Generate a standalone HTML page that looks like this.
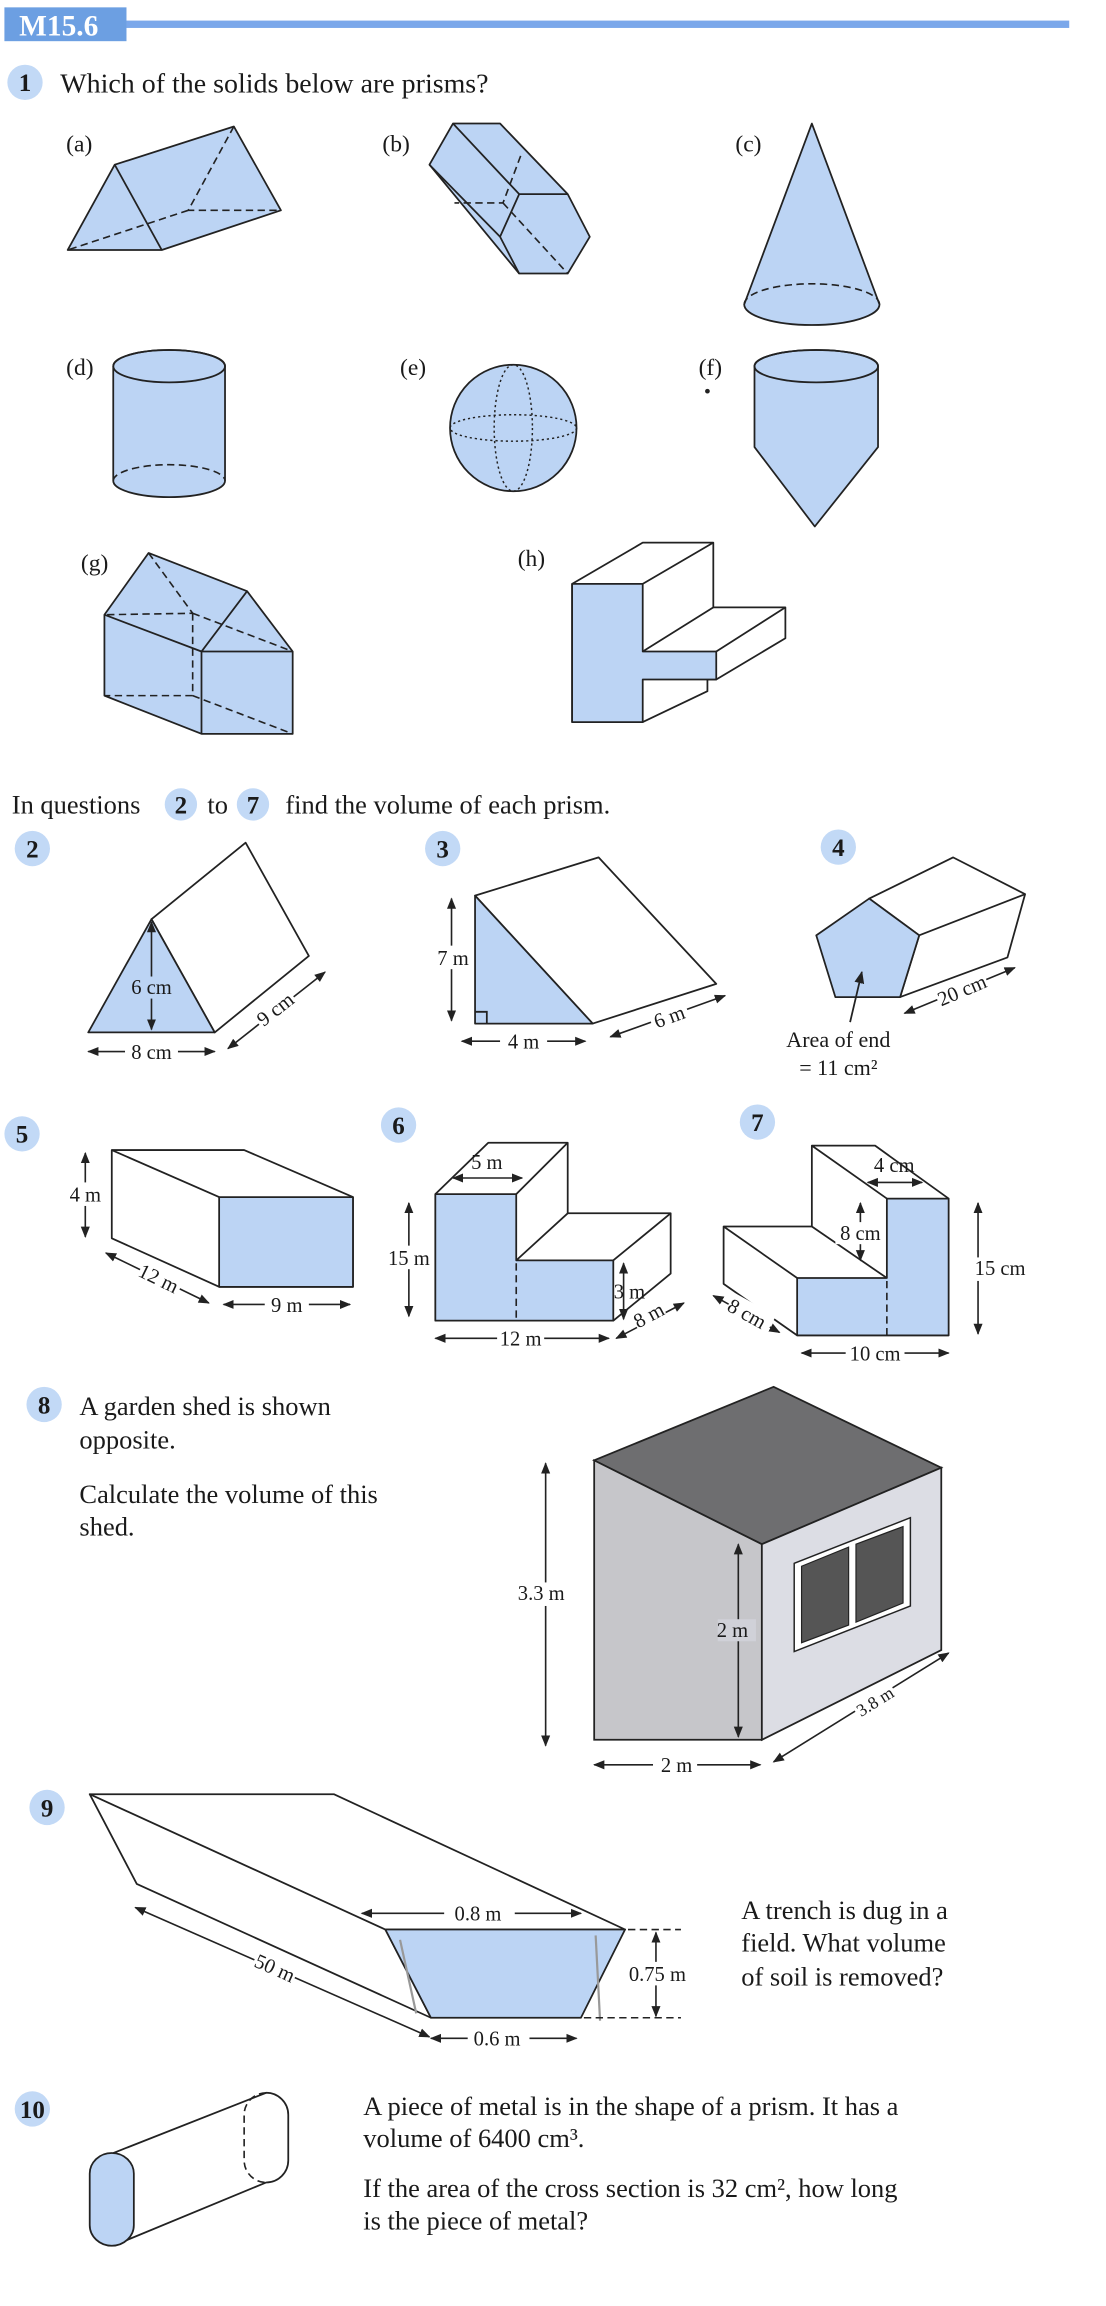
<!DOCTYPE html>
<html><head><meta charset="utf-8"><style>
html,body{margin:0;padding:0;background:#fff}
svg{display:block}
text{font-family:"Liberation Serif",serif;fill:#1a1a1a}
.b{fill:#bcd4f4;stroke:#222;stroke-width:1.2;stroke-linejoin:round}
.w{fill:#fff;stroke:#222;stroke-width:1.2;stroke-linejoin:round}
.l{fill:none;stroke:#222;stroke-width:1.2}
.d{fill:none;stroke:#222;stroke-width:1.1;stroke-dasharray:5 3}
.dt{fill:none;stroke:#222;stroke-width:1;stroke-dasharray:1.5 2}
.a{fill:none;stroke:#222;stroke-width:1.1;marker-start:url(#ar);marker-end:url(#ar)}
.bd{fill:#c2d9f6}
.bn{font-weight:bold;font-size:17px;text-anchor:middle}
.t{font-size:18px}
.s{font-size:14px}
</style></head><body>
<svg width="1106" height="2306" viewBox="0 0 752 1568" preserveAspectRatio="none" xmlns="http://www.w3.org/2000/svg">
<defs><marker id="ar" viewBox="0 0 10 10" refX="9" refY="5" markerWidth="7" markerHeight="7" orient="auto-start-reverse"><path d="M0,1 L10,5 L0,9 z" fill="#222"/></marker></defs>

<!-- header -->
<rect x="3" y="5" width="83" height="23" fill="#6c9fe2"/>
<rect x="86" y="14" width="641" height="5" fill="#7aa7ea"/>
<text x="13" y="24" style="font-size:20px;font-weight:bold;fill:#fff">M15.6</text>

<!-- Q1 -->
<circle cx="17" cy="56" r="12" class="bd"/><text x="17" y="62" class="bn">1</text>
<text x="41" y="63" class="t" style="font-size:19px">Which of the solids below are prisms?</text>
<text x="45" y="103" class="s" style="font-size:16px">(a)</text>
<text x="260" y="103" class="s" style="font-size:16px">(b)</text>
<text x="500" y="103" class="s" style="font-size:16px">(c)</text>
<text x="45" y="255" class="s" style="font-size:16px">(d)</text>
<text x="272" y="255" class="s" style="font-size:16px">(e)</text>
<text x="475" y="255" class="s" style="font-size:16px">(f)</text>
<text x="55" y="388" class="s" style="font-size:16px">(g)</text>
<text x="352" y="385" class="s" style="font-size:16px">(h)</text>

<!-- a -->
<polygon class="b" points="46,170 78,112 159,86 191,143 110,170"/>
<path class="l" d="M78,112 L110,170"/>
<path class="d" d="M159,86 L128,143 L191,143 M128,143 L46,170"/>
<!-- b -->
<polygon class="b" points="308,84 340,84 386,132 401,161 386,186 353,186 292,112"/>
<path class="l" d="M308,84 L353,132 L386,132 M353,132 L340,161 L353,186 M292,112 L340,161"/>
<path class="d" d="M354,106 L342,138 L309,138 M342,138 L386,186"/>
<!-- c -->
<path class="b" d="M552,84 L506,207 A46,14 0 0 0 598,207 Z"/>
<path class="d" d="M506,207 A46,14 0 0 1 598,207"/>
<!-- d -->
<path class="b" d="M77,249 L77,327 A38,11 0 0 0 153,327 L153,249 A38,11 0 0 0 77,249 Z"/>
<ellipse class="l" cx="115" cy="249" rx="38" ry="11"/>
<path class="d" d="M77,327 A38,11 0 0 1 153,327"/>
<!-- e -->
<ellipse class="b" cx="349" cy="291" rx="43" ry="43"/>
<ellipse class="dt" cx="349" cy="291" rx="43" ry="9"/>
<ellipse class="dt" cx="349" cy="291" rx="13" ry="43"/>
<!-- f -->
<path class="b" d="M513,249 L513,304 L554,358 L597,304 L597,249 A42,11 0 0 0 513,249 Z"/>
<ellipse class="l" cx="555" cy="249" rx="42" ry="11"/>
<circle cx="481" cy="266" r="1.6" fill="#222"/>
<!-- g -->
<polygon class="b" points="101,376 168,402 199,443 199,499 137,499 71,473 71,418"/>
<path class="l" d="M71,418 L137,443 L168,402 M137,443 L199,443 M137,443 L137,499"/>
<path class="d" d="M101,376 L131,417 L71,418 M131,417 L199,443 M131,417 L131,473 L71,473 M131,473 L199,499"/>
<!-- h -->
<polygon class="w" points="389,397 437,369 485,369 485,413 534,413 534,434 487,462 481,462 481,470 437,491 389,491"/>
<polygon class="b" points="389,397 437,397 437,443 487,443 487,462 437,462 437,491 389,491"/>
<path class="l" d="M437,397 L485,369 M437,443 L485,413 M487,443 L534,413"/>

<!-- intro -->
<text x="8" y="553" class="t">In questions</text>
<circle cx="123" cy="547" r="11" class="bd"/><text x="123" y="553" class="bn">2</text>
<text x="141" y="553" class="t">to</text>
<circle cx="172" cy="547" r="11" class="bd"/><text x="172" y="553" class="bn">7</text>
<text x="194" y="553" class="t">find the volume of each prism.</text>

<!-- Q2 -->
<circle cx="22" cy="577" r="12" class="bd"/><text x="22" y="583" class="bn">2</text>
<polygon class="w" points="103,625 167,573 210,650 146,702"/>
<polygon class="b" points="103,625 60,702 146,702"/>
<path class="a" d="M103,627 L103,700"/>
<rect x="88" y="664" width="32" height="15" fill="#bcd4f4"/>
<text x="103" y="676" class="s" text-anchor="middle">6 cm</text>
<path class="a" d="M60,715 L146,715"/>
<rect x="85" y="708" width="36" height="15" fill="#fff"/>
<text x="103" y="720" class="s" text-anchor="middle">8 cm</text>
<path class="a" d="M155,713 L221,661"/>
<rect x="172" y="678" width="30" height="15" fill="#fff" transform="rotate(-38 187 686)"/>
<text x="187" y="691" class="s" text-anchor="middle" transform="rotate(-38 187 686)">9 cm</text>

<!-- Q3 -->
<circle cx="301" cy="577" r="12" class="bd"/><text x="301" y="583" class="bn">3</text>
<polygon class="w" points="323,609 407,583 487,669 403,696"/>
<polygon class="b" points="323,609 323,696 403,696"/>
<path class="l" d="M323,688 L331,688 L331,696"/>
<path class="a" d="M307,611 L307,694"/>
<rect x="296" y="643" width="24" height="16" fill="#fff"/>
<text x="308" y="656" class="s" text-anchor="middle">7 m</text>
<path class="a" d="M314,708 L398,708"/>
<rect x="340" y="701" width="32" height="15" fill="#fff"/>
<text x="356" y="713" class="s" text-anchor="middle">4 m</text>
<path class="a" d="M415,705 L493,677"/>
<rect x="442" y="683" width="26" height="15" fill="#fff" transform="rotate(-20 455 691)"/>
<text x="455" y="696" class="s" text-anchor="middle" transform="rotate(-20 455 691)">6 m</text>

<!-- Q4 -->
<circle cx="570" cy="576" r="12" class="bd"/><text x="570" y="582" class="bn">4</text>
<polygon class="w" points="591,611 648,583 697,608 685,651 612,678 625,636"/>
<path class="l" d="M625,636 L697,608"/>
<polygon class="b" points="591,611 555,636 568,678 612,678 625,636"/>
<path class="l" d="M578,695 L586,661" marker-end="url(#ar)"/>
<text x="570" y="712" class="s" text-anchor="middle" style="font-size:15px">Area of end</text>
<text x="570" y="731" class="s" text-anchor="middle" style="font-size:15px">= 11 cm²</text>
<path class="a" d="M615,689 L690,658"/>
<rect x="636" y="665" width="36" height="15" fill="#fff" transform="rotate(-23 654 673)"/>
<text x="654" y="678" class="s" text-anchor="middle" transform="rotate(-23 654 673)">20 cm</text>

<!-- Q5 -->
<circle cx="15" cy="771" r="12" class="bd"/><text x="15" y="777" class="bn">5</text>
<polygon class="w" points="76,782 166,782 240,814 240,875 149,875 76,842"/>
<path class="l" d="M76,782 L149,814"/>
<rect x="149" y="814" width="91" height="61" class="b"/>
<path class="a" d="M58,784 L58,841"/>
<rect x="46" y="804" width="24" height="16" fill="#fff"/>
<text x="58" y="817" class="s" text-anchor="middle">4 m</text>
<path class="a" d="M72,852 L142,886"/>
<rect x="94" y="862" width="30" height="14" fill="#fff" transform="rotate(26 108 869)"/>
<text x="108" y="874" class="s" text-anchor="middle" transform="rotate(26 108 869)">12 m</text>
<path class="a" d="M152,887 L238,887"/>
<rect x="180" y="880" width="30" height="15" fill="#fff"/>
<text x="195" y="892" class="s" text-anchor="middle">9 m</text>

<!-- Q6 -->
<circle cx="271" cy="765" r="12" class="bd"/><text x="271" y="771" class="bn">6</text>
<polygon class="w" points="296,812 332,777 386,777 386,825 456,825 456,866 417,898 296,898"/>
<path class="l" d="M351,812 L386,777 M351,857 L386,825 M417,857 L456,825"/>
<polygon class="b" points="296,812 351,812 351,857 417,857 417,898 296,898"/>
<path class="d" d="M351,859 L351,898"/>
<path class="a" d="M308,801 L355,801"/>
<text x="331" y="795" class="s" text-anchor="middle">5 m</text>
<path class="a" d="M278,818 L278,895"/>
<rect x="263" y="847" width="32" height="16" fill="#fff"/>
<text x="278" y="860" class="s" text-anchor="middle">15 m</text>
<path class="a" d="M424,859 L424,897"/>
<text x="428" y="883" class="s" text-anchor="middle">3 m</text>
<path class="a" d="M419,910 L465,886"/>
<rect x="430" y="886" width="22" height="14" fill="#fff" transform="rotate(-28 441 894)"/>
<text x="441" y="899" class="s" text-anchor="middle" transform="rotate(-28 441 894)">8 m</text>
<path class="a" d="M296,910 L414,910"/>
<rect x="338" y="903" width="32" height="15" fill="#fff"/>
<text x="354" y="915" class="s" text-anchor="middle">12 m</text>

<!-- Q7 -->
<circle cx="515" cy="763" r="12" class="bd"/><text x="515" y="769" class="bn">7</text>
<polygon class="w" points="552,779 595,779 645,815 645,908 542,908 492,873 492,834 552,834"/>
<path class="l" d="M552,779 L603,815 M552,834 L603,869 M492,834 L542,869"/>
<polygon class="b" points="603,815 645,815 645,908 542,908 542,869 603,869"/>
<path class="d" d="M603,871 L603,908"/>
<path class="a" d="M590,804 L627,804"/>
<text x="608" y="797" class="s" text-anchor="middle">4 cm</text>
<path class="a" d="M585,818 L585,857"/>
<rect x="568" y="831" width="34" height="15" fill="#fff"/>
<text x="585" y="843" class="s" text-anchor="middle">8 cm</text>
<path class="a" d="M665,818 L665,907"/>
<rect x="650" y="855" width="40" height="16" fill="#fff"/>
<text x="680" y="867" class="s" text-anchor="middle">15 cm</text>
<path class="a" d="M485,881 L530,906"/>
<rect x="494" y="885" width="32" height="14" fill="#fff" transform="rotate(29 508 893)"/>
<text x="508" y="898" class="s" text-anchor="middle" transform="rotate(29 508 893)">8 cm</text>
<path class="a" d="M545,920 L645,920"/>
<rect x="575" y="913" width="40" height="15" fill="#fff"/>
<text x="595" y="925" class="s" text-anchor="middle">10 cm</text>

<!-- Q8 -->
<circle cx="30" cy="955" r="12" class="bd"/><text x="30" y="961" class="bn">8</text>
<text x="54" y="962" class="t">A garden shed is shown</text>
<text x="54" y="985" class="t">opposite.</text>
<text x="54" y="1022" class="t">Calculate the volume of this</text>
<text x="54" y="1044" class="t">shed.</text>
<polygon points="404,993 526,943 640,998 518,1050" fill="#6e6e70" stroke="#222" stroke-width="1.2"/>
<polygon points="404,993 518,1050 518,1183 404,1183" fill="#c6c6ca" stroke="#222" stroke-width="1.2"/>
<polygon points="518,1050 640,998 640,1122 518,1183" fill="#dcdde4" stroke="#222" stroke-width="1.2"/>
<polygon points="540,1063 619,1032 619,1092 540,1123" fill="#fff" stroke="#222" stroke-width="1"/>
<polygon points="545,1065 577,1052 577,1105 545,1117" fill="#555" stroke="#222" stroke-width="0.8"/>
<polygon points="582,1050 614,1038 614,1090 582,1103" fill="#555" stroke="#222" stroke-width="0.8"/>
<path class="a" d="M371,995 L371,1187"/>
<rect x="352" y="1076" width="38" height="16" fill="#fff"/>
<text x="368" y="1088" class="s" text-anchor="middle">3.3 m</text>
<path class="a" d="M502,1050 L502,1181"/>
<rect x="488" y="1101" width="26" height="15" fill="#d0d1d8"/>
<text x="498" y="1113" class="s" text-anchor="middle">2 m</text>
<path class="a" d="M404,1200 L517,1200"/>
<rect x="444" y="1193" width="30" height="15" fill="#fff"/>
<text x="460" y="1205" class="s" text-anchor="middle">2 m</text>
<path class="a" d="M526,1198 L645,1124"/>
<rect x="580" y="1150" width="30" height="14" fill="#fff" transform="rotate(-32 595 1157)"/>
<text x="595" y="1161" class="s" text-anchor="middle" transform="rotate(-32 595 1157)" style="font-size:12px">3.8 m</text>

<!-- Q9 -->
<circle cx="32" cy="1229" r="12" class="bd"/><text x="32" y="1235" class="bn">9</text>
<polygon class="w" points="61,1220 227,1220 425,1312 262,1312 293,1372 93,1281"/>
<path class="l" d="M61,1220 L262,1312"/>
<polygon class="b" points="262,1312 425,1312 395,1372 293,1372"/>
<path d="M272,1319 L283,1369 M405,1316 L408,1374" stroke="#999" stroke-width="1.5" fill="none"/>
<path class="a" d="M92,1297 L292,1385"/>
<rect x="172" y="1331" width="30" height="15" fill="#fff" transform="rotate(24 187 1338)"/>
<text x="187" y="1343" class="s" text-anchor="middle" transform="rotate(24 187 1338)">50 m</text>
<path class="a" d="M246,1301 L395,1301"/>
<rect x="302" y="1293" width="48" height="16" fill="#fff"/>
<text x="325" y="1306" class="s" text-anchor="middle">0.8 m</text>
<path class="d" d="M427,1312 L463,1312 M397,1372 L463,1372"/>
<path class="a" d="M446,1314 L446,1371"/>
<rect x="428" y="1334" width="40" height="16" fill="#fff"/>
<text x="447" y="1347" class="s" text-anchor="middle">0.75 m</text>
<path class="a" d="M293,1386 L392,1386"/>
<rect x="318" y="1378" width="42" height="16" fill="#fff"/>
<text x="338" y="1391" class="s" text-anchor="middle">0.6 m</text>
<text x="504" y="1305" class="t">A trench is dug in a</text>
<text x="504" y="1327" class="t">field. What volume</text>
<text x="504" y="1350" class="t">of soil is removed?</text>

<!-- Q10 -->
<circle cx="22" cy="1434" r="12" class="bd"/><text x="22" y="1440" class="bn">10</text>
<path class="l" d="M77,1464 L181,1423 A15,15 0 0 1 196,1438 L196,1469 A15,15 0 0 1 181,1484 L77,1527"/>
<path class="d" d="M181,1423 A15,15 0 0 0 166,1438 L166,1469 A15,15 0 0 0 181,1484"/>
<path class="b" d="M61,1478 A15,14 0 0 1 91,1478 L91,1513 A15,14 0 0 1 61,1513 Z"/>
<text x="247" y="1438" class="t">A piece of metal is in the shape of a prism. It has a</text>
<text x="247" y="1460" class="t">volume of 6400 cm³.</text>
<text x="247" y="1494" class="t">If the area of the cross section is 32 cm², how long</text>
<text x="247" y="1516" class="t">is the piece of metal?</text>
</svg>
</body></html>
